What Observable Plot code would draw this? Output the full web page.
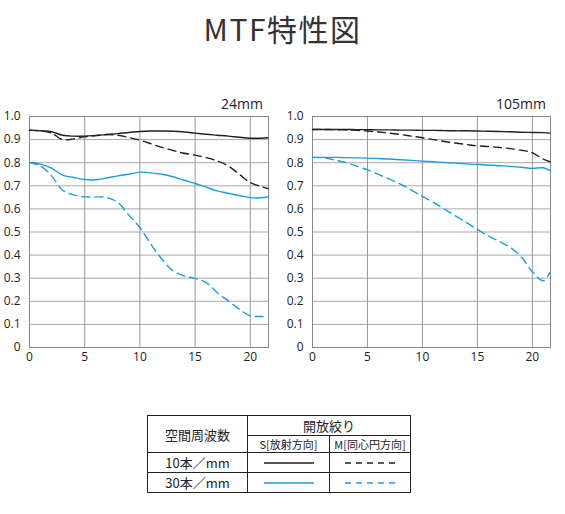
<!DOCTYPE html>
<html>
<head>
<meta charset="UTF-8">
<title>MTF特性図</title>
<script src="https://cdn.jsdelivr.net/npm/d3@7"></script>
<script src="https://cdn.jsdelivr.net/npm/@observablehq/plot@0.6"></script>
<style>
  body { margin: 0; background: #fff; font-family: "Noto Sans CJK JP", "Noto Sans", sans-serif; }
  #page { position: relative; width: 565px; height: 514px; }
  #title { position: absolute; left: 0; width: 565px; top: 6px; text-align: center;
           font-size: 30px; color: #333; letter-spacing: 1.5px; }
  .chart { position: absolute; top: 95px; }
  .lens { position: absolute; top: 94px; font-family: "Open Sans", sans-serif; font-size: 14px; color: #222; }
  #legend { position: absolute; left: 147px; top: 415px; border-collapse: collapse;
            font-size: 12px; color: #222; }
  #legend td { border: 1px solid #222; text-align: center; padding: 0; }
</style>
</head>
<body>
<div id="page">
  <div id="title">MTF特性図</div>
  <div id="chart1" class="chart" style="left:0px"></div>
  <div id="chart2" class="chart" style="left:282px"></div>
  <div class="lens" style="left:221px">24mm</div>
  <div class="lens" style="left:496px">105mm</div>
  <table id="legend">
    <tr style="height:19px">
      <td rowspan="2" style="width:99px;font-size:13px">空間周波数</td>
      <td colspan="2" style="font-size:13px">開放絞り</td>
    </tr>
    <tr style="height:17px">
      <td style="width:81px;font-size:11px">S[放射方向]</td>
      <td style="width:80px;font-size:11px">M[同心円方向]</td>
    </tr>
    <tr style="height:19px">
      <td style="font-size:13px">10本／mm</td>
      <td id="k10s"></td>
      <td id="k10m"></td>
    </tr>
    <tr style="height:19px">
      <td style="font-size:13px">30本／mm</td>
      <td id="k30s"></td>
      <td id="k30m"></td>
    </tr>
  </table>
</div>
<script>
// spatial frequency positions (mm from center)
const xs = [0, 1, 2, 3, 4, 5, 6, 7, 8, 9, 10, 11, 12, 13, 14, 15, 16, 17, 18, 19, 20, 21, 21.6];

// 24mm
const w10s = [0.941, 0.938, 0.934, 0.919, 0.915, 0.915, 0.918, 0.922, 0.926, 0.931, 0.935, 0.937, 0.937, 0.936, 0.933, 0.928, 0.923, 0.919, 0.915, 0.910, 0.906, 0.906, 0.908];
const w10m = [0.941, 0.938, 0.928, 0.900, 0.903, 0.912, 0.917, 0.922, 0.919, 0.909, 0.898, 0.882, 0.866, 0.853, 0.841, 0.833, 0.822, 0.808, 0.786, 0.750, 0.714, 0.697, 0.688];
const w30s = [0.801, 0.794, 0.776, 0.746, 0.736, 0.727, 0.726, 0.734, 0.743, 0.750, 0.759, 0.756, 0.750, 0.739, 0.724, 0.710, 0.694, 0.678, 0.668, 0.658, 0.649, 0.648, 0.652];
const w30m = [0.801, 0.786, 0.743, 0.681, 0.661, 0.652, 0.652, 0.649, 0.628, 0.573, 0.519, 0.447, 0.382, 0.332, 0.310, 0.299, 0.281, 0.238, 0.202, 0.166, 0.137, 0.134, 0.133];

// 105mm
const t10s = [0.944, 0.944, 0.944, 0.944, 0.943, 0.943, 0.942, 0.942, 0.941, 0.941, 0.940, 0.940, 0.939, 0.938, 0.938, 0.937, 0.936, 0.935, 0.934, 0.932, 0.931, 0.930, 0.928];
const t10m = [0.944, 0.944, 0.943, 0.942, 0.940, 0.937, 0.933, 0.928, 0.922, 0.915, 0.908, 0.900, 0.892, 0.885, 0.879, 0.873, 0.870, 0.866, 0.861, 0.854, 0.843, 0.815, 0.804];
const t30s = [0.823, 0.823, 0.823, 0.822, 0.821, 0.820, 0.818, 0.816, 0.813, 0.810, 0.807, 0.804, 0.801, 0.798, 0.795, 0.792, 0.790, 0.787, 0.784, 0.780, 0.775, 0.778, 0.766];
const t30m = [0.823, 0.821, 0.812, 0.801, 0.786, 0.769, 0.749, 0.729, 0.707, 0.681, 0.654, 0.628, 0.599, 0.570, 0.541, 0.512, 0.483, 0.459, 0.433, 0.392, 0.328, 0.289, 0.325];

const xTicks = [0, 5, 10, 15, 20];
const yTicks = [0, 0.1, 0.2, 0.3, 0.4, 0.5, 0.6, 0.7, 0.8, 0.9, 1.0];

const black = "#231f20";
const blue = "#1a9fde";
const dash = "8,5";

function rows(s10, m10, s30, m30) {
  return [
    {k: "10S", vals: s10, stroke: black, dash: null},
    {k: "10M", vals: m10, stroke: black, dash: dash},
    {k: "30S", vals: s30, stroke: blue, dash: null},
    {k: "30M", vals: m30, stroke: blue, dash: dash}
  ];
}

function mtf(series, ml, mr, width) {
  const marks = [
    Plot.gridY(yTicks, {stroke: "#a8a8a8", strokeOpacity: 1}),
    Plot.gridX(xTicks, {stroke: "#999", strokeOpacity: 1}),
    Plot.frame({stroke: "#888"}),
    Plot.axisY(yTicks, {label: null, tickSize: 0, tickPadding: 9, tickFormat: d => d === 0 ? "0" : d.toFixed(1), fontSize: 12, fill: "#222"}),
    Plot.axisX(xTicks, {label: null, tickSize: 0, tickPadding: 5, fontSize: 12, fill: "#222"})
  ];
  for (const s of series) {
    marks.push(Plot.line(xs.map((x, i) => ({x, y: s.vals[i]})), {
      x: "x", y: "y", stroke: s.stroke, strokeWidth: 1.4,
      strokeDasharray: s.dash, curve: "catmull-rom"
    }));
  }
  return Plot.plot({
    width, height: 272,
    marginLeft: ml, marginRight: mr, marginTop: 21, marginBottom: 20,
    x: {domain: [0, 21.65], label: null},
    y: {domain: [0, 1], label: null},
    style: {fontFamily: "Open Sans, sans-serif", background: "transparent"},
    marks
  });
}

document.querySelector("#chart1").append(mtf(rows(w10s, w10m, w30s, w30m), 29, 14, 282));
document.querySelector("#chart2").append(mtf(rows(t10s, t10m, t30s, t30m), 30, 15, 283));

// legend samples
function sample(id, color, d) {
  const svg = d3.select(id).append("svg").attr("width", 60).attr("height", 10).style("display", "block").style("margin", "auto");
  svg.append("line").attr("x1", 5).attr("x2", 55).attr("y1", 5).attr("y2", 5)
    .attr("stroke", color).attr("stroke-width", 1.4).attr("stroke-dasharray", d);
}
sample("#k10s", black, null);
sample("#k10m", black, "6,5");
sample("#k30s", blue, null);
sample("#k30m", blue, "6,5");
</script>
</body>
</html>
